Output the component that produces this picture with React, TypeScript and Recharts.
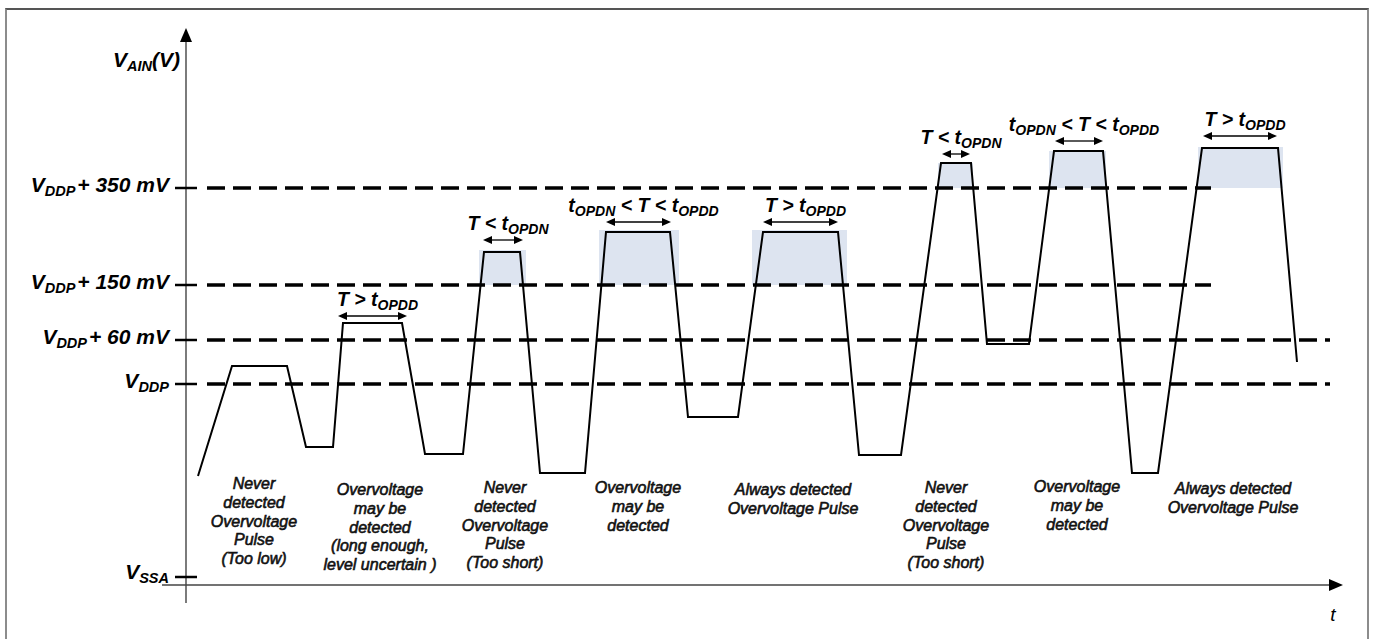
import React from "react";
import {
  LineChart,
  Line,
  XAxis,
  YAxis,
  ReferenceLine,
  ReferenceArea,
  ReferenceDot,
} from "recharts";

// schematic units: t = position along the time axis, v = height above V_SSA
const waveT = [12, 46, 101, 120, 147, 157, 216, 239, 277, 298, 334, 354, 399, 420, 484, 502, 552, 577, 652, 673, 715, 755, 785, 801, 843, 868, 917, 946, 972, 1016, 1092, 1111];
const waveV = [101, 211, 211, 130, 130, 254, 254, 123, 123, 325, 325, 104, 104, 345, 345, 160, 160, 345, 345, 122, 122, 414, 414, 233, 233, 426, 426, 104, 104, 429, 429, 215];

// thresholds on the V axis
const levelValues = [0, 193, 237, 292, 389];
const levelSub = ["SSA", "DDP", "DDP", "DDP", "DDP"];
const levelRest = ["", "", "+ 60 mV", "+ 150 mV", "+ 350 mV"];
const levelEnd = [0, 1144, 1144, 1025, 1025]; // where the dashed line stops (0 = no line)
const titleLevel = 514;

// part of each pulse above its threshold
const shadeFrom = [293, 413, 566, 752, 863, 1012];
const shadeTo = [340, 493, 661, 787, 920, 1097];
const shadeBase = [292, 292, 292, 389, 389, 389];
const shadeTop = [327, 347, 347, 414, 426, 430];

// duration arrows over the pulses
const arrowFrom = [152, 297, 420, 577, 756, 869, 1017];
const arrowTo = [221, 337, 485, 652, 784, 917, 1091];
const arrowLevel = [261, 337, 355, 355, 423, 436, 441];
const arrowKind = ["gt", "lt", "mid", "gt", "lt", "mid", "gt"];

// notes under each pulse
const noteLines = [
  ["Never", "detected", "Overvoltage", "Pulse", "(Too low)"],
  ["Overvoltage", "may be", "detected", "(long enough,", "level uncertain )"],
  ["Never", "detected", "Overvoltage", "Pulse", "(Too short)"],
  ["Overvoltage", "may be", "detected"],
  ["Always detected", "Overvoltage Pulse"],
  ["Never", "detected", "Overvoltage", "Pulse", "(Too short)"],
  ["Overvoltage", "may be", "detected"],
  ["Always detected", "Overvoltage Pulse"],
];
const noteT = [68, 194, 319, 452, 607, 760, 891, 1047];
const noteV = [88, 82, 84, 84, 82, 84, 85, 83];

const tMax = 1157;
const vMin = -8;
const vMax = 549;

const data = waveT.map((t, i) => ({ t, v: waveV[i] }));

const FONT = '"Liberation Sans", Arial, Helvetica, sans-serif';

function LevelTick(props: any) {
  const { x, y, payload } = props;
  const i = levelValues.indexOf(payload.value);
  if (i < 0) {
    return (
      <text x={x - 6} y={y + 4} textAnchor="end" fontFamily={FONT} fontSize={21} fontWeight="bold" fontStyle="italic" fill="#000">
        V<tspan fontSize={14.5} dy={4}>AIN</tspan>
        <tspan dy={-4}>(V)</tspan>
      </text>
    );
  }
  return (
    <g>
      <line x1={x - 11} x2={x + 11} y1={y} y2={y} stroke="#000" strokeWidth={2.5} />
      <text x={x - 17} y={y + (i === 0 ? 2 : 4)} textAnchor="end" fontFamily={FONT} fontSize={21} fontWeight="bold" fontStyle="italic" fill="#000">
        V<tspan fontSize={14.5} dy={4}>{levelSub[i]}</tspan>
        {levelRest[i] ? (
          <tspan dy={-4} dx={2}>
            {levelRest[i]}
          </tspan>
        ) : null}
      </text>
    </g>
  );
}

function axisArrow(p: any) {
  const { x1, y1, x2, y2 } = p;
  const len = Math.hypot(x2 - x1, y2 - y1) || 1;
  const ux = (x2 - x1) / len;
  const uy = (y2 - y1) / len;
  const h = 14;
  const w = 6;
  const bx = x2 - ux * h;
  const by = y2 - uy * h;
  return (
    <g>
      <line x1={x1} y1={y1} x2={bx} y2={by} stroke="#444" strokeWidth={1.4} />
      <polygon
        points={`${x2},${y2} ${bx - uy * w},${by + ux * w} ${bx + uy * w},${by - ux * w}`}
        fill="#000"
      />
    </g>
  );
}

const small = 14;
function spanLabel(kind: string) {
  if (kind === "mid") {
    return (
      <>
        t<tspan fontSize={small} dy={4}>OPDN</tspan>
        <tspan dy={-4}> &lt; T &lt; t</tspan>
        <tspan fontSize={small} dy={4}>OPDD</tspan>
      </>
    );
  }
  return (
    <>
      {kind === "gt" ? "T > t" : "T < t"}
      <tspan fontSize={small} dy={4}>{kind === "gt" ? "OPDD" : "OPDN"}</tspan>
    </>
  );
}

function spanArrow(kind: string) {
  return (p: any) => {
    const { x1, x2, y1 } = p;
    const h = 9;
    const w = 4;
    return (
      <g>
        <line x1={x1 + h} x2={x2 - h} y1={y1} y2={y1} stroke="#000" strokeWidth={1.3} />
        <polygon points={`${x1},${y1} ${x1 + h},${y1 - w} ${x1 + h},${y1 + w}`} fill="#000" />
        <polygon points={`${x2},${y1} ${x2 - h},${y1 - w} ${x2 - h},${y1 + w}`} fill="#000" />
        <text
          x={(x1 + x2) / 2 + 5}
          y={y1 - 10}
          textAnchor="middle"
          fontFamily={FONT}
          fontSize={19.5}
          fontWeight="bold"
          fontStyle="italic"
          fill="#000"
        >
          {spanLabel(kind)}
        </text>
      </g>
    );
  };
}

function noteShape(lines: string[]) {
  return (p: any) => (
    <text
      x={p.cx}
      y={p.cy}
      textAnchor="middle"
      fontFamily={FONT}
      fontSize={16}
      fontStyle="italic"
      fill="#111"
      stroke="#111"
      strokeWidth={0.6}
    >
      {lines.map((s, k) => (
        <tspan key={k} x={p.cx} dy={k === 0 ? 0 : 18.8}>
          {s}
        </tspan>
      ))}
    </text>
  );
}

export default function App() {
  return (
    <div style={{ position: "absolute", left: 0, top: 0, width: 1375, height: 639, background: "#fff" }}>
      <div
        style={{
          position: "absolute",
          left: 5,
          top: 8,
          width: 1360,
          height: 631,
          borderLeft: "2px solid #8c8c8c",
          borderRight: "2px solid #8c8c8c",
          borderTop: "2px solid #555",
        }}
      />
      <div style={{ position: "absolute", left: 0, top: 0 }}>
        <LineChart width={1375} height={639} data={data} margin={{ top: 28, right: 32, bottom: 54, left: 6 }}>
          <XAxis dataKey="t" type="number" domain={[0, tMax]} allowDataOverflow hide />
          <YAxis
            type="number"
            domain={[vMin, vMax]}
            allowDataOverflow
            width={180}
            ticks={[...levelValues, titleLevel]}
            interval={0}
            axisLine={false}
            tickLine={false}
            tickSize={0}
            tickMargin={0}
            tick={LevelTick}
          />
          {shadeFrom.map((x1, i) => (
            <ReferenceArea
              key={"s" + i}
              x1={x1}
              x2={shadeTo[i]}
              y1={shadeBase[i]}
              y2={shadeTop[i]}
              fill="#dde4f0"
              fillOpacity={1}
              stroke="none"
              ifOverflow="visible"
            />
          ))}
          {levelValues.map((lv, i) =>
            levelEnd[i] ? (
              <ReferenceLine
                key={"d" + i}
                segment={[
                  { x: 21, y: lv },
                  { x: levelEnd[i], y: lv },
                ]}
                stroke="#000"
                strokeWidth={3.5}
                strokeDasharray="18 8"
                ifOverflow="visible"
              />
            ) : null
          )}
          <ReferenceLine
            segment={[
              { x: 0, y: -26 },
              { x: 0, y: vMax },
            ]}
            ifOverflow="visible"
            shape={axisArrow}
          />
          <ReferenceLine
            segment={[
              { x: -24, y: vMin },
              { x: tMax, y: vMin },
            ]}
            ifOverflow="visible"
            shape={axisArrow}
          />
          {arrowFrom.map((x1, i) => (
            <ReferenceLine
              key={"a" + i}
              segment={[
                { x: x1, y: arrowLevel[i] },
                { x: arrowTo[i], y: arrowLevel[i] },
              ]}
              ifOverflow="visible"
              shape={spanArrow(arrowKind[i])}
            />
          ))}
          <Line
            type="linear"
            dataKey="v"
            stroke="#000"
            strokeWidth={2}
            dot={false}
            isAnimationActive={false}
          />
          {noteLines.map((lines, i) => (
            <ReferenceDot
              key={"n" + i}
              x={noteT[i]}
              y={noteV[i]}
              r={0}
              ifOverflow="visible"
              shape={noteShape(lines)}
            />
          ))}
          <ReferenceDot
            x={1147}
            y={-44}
            r={0}
            ifOverflow="visible"
            shape={(p: any) => (
              <text x={p.cx} y={p.cy} textAnchor="middle" fontFamily={FONT} fontSize={19} fontStyle="italic" fill="#000">
                t
              </text>
            )}
          />
        </LineChart>
      </div>
    </div>
  );
}
